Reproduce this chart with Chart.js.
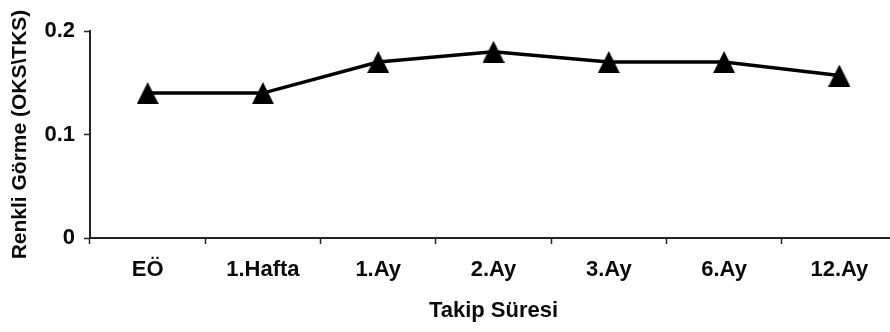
<!DOCTYPE html>
<html lang="tr">
<head>
<meta charset="utf-8">
<title>Renkli Görme - Takip Süresi</title>
<script src="https://cdn.jsdelivr.net/npm/chart.js@4/dist/chart.umd.min.js"></script>
<style>
  html, body { margin: 0; padding: 0; background: #fff; overflow: hidden; }
  #wrap { width: 898px; height: 332px; }
</style>
</head>
<body>
<div id="wrap"><canvas id="chart" width="898" height="332"></canvas></div>
<script>
// Follow-up periods
const categories = ['EÖ', '1.Hafta', '1.Ay', '2.Ay', '3.Ay', '6.Ay', '12.Ay'];
// Colour vision score (OKS\TKS) at each visit
const colourVision = [0.14, 0.14, 0.17, 0.18, 0.17, 0.17, 0.157];
// Y axis tick values
const yTicks = [0, 0.1, 0.2];

const yTitle = 'Renkli Görme (OKS\\TKS)';
const xTitle = 'Takip Süresi';

const FONT = "'Liberation Sans', Arial, sans-serif";
const INK = '#0a0a0a';

// Filled triangle marker, centred on its box
function triangleMarker(size) {
  const c = document.createElement('canvas');
  c.width = size; c.height = size;
  const g = c.getContext('2d');
  g.fillStyle = '#000';
  g.beginPath();
  g.moveTo(0, size);
  g.lineTo(size / 2, 0);
  g.lineTo(size, size);
  g.closePath();
  g.fill();
  return c;
}
const marker = triangleMarker(22);

new Chart(document.getElementById('chart'), {
  type: 'line',
  data: {
    labels: categories,
    datasets: [{
      data: colourVision,
      borderColor: '#000',
      borderWidth: 3.5,
      pointStyle: marker,
      pointRadius: 11,
      pointHoverRadius: 11,
      tension: 0,
      fill: false
    }]
  },
  options: {
    responsive: false,
    devicePixelRatio: 1,
    animation: false,
    layout: { autoPadding: false, padding: { top: 31, right: 1, bottom: 0, left: 0 } },
    plugins: { legend: { display: false }, tooltip: { enabled: false } },
    scales: {
      x: {
        type: 'category',
        offset: true,
        grid: { display: true, drawOnChartArea: false, offset: true, tickLength: 6, tickColor: '#222', tickWidth: 1.5 },
        border: { display: true, color: '#222', width: 2 },
        ticks: { color: INK, padding: 13, font: { family: FONT, size: 22, weight: 'bold' }, maxRotation: 0 },
        title: { display: true, text: xTitle, color: INK, padding: { top: 0, bottom: 8 }, font: { family: FONT, size: 22, weight: 'bold' } },
        afterFit: (s) => { s.height = 94; s.paddingLeft = 0; s.paddingRight = 0; }
      },
      y: {
        min: 0,
        max: 0.2,
        afterBuildTicks: (s) => { s.ticks = yTicks.map(v => ({ value: v })); },
        grid: { display: true, drawOnChartArea: false, tickLength: 6, tickColor: '#222', tickWidth: 1.5 },
        border: { display: true, color: '#222', width: 2 },
        ticks: { color: INK, padding: 9, font: { family: FONT, size: 22, weight: 'bold' } },
        title: { display: true, text: yTitle, color: INK, padding: { top: 8, bottom: 0 }, font: { family: FONT, size: 21, weight: 'bold' } },
        afterFit: (s) => { s.width = 90; }
      }
    }
  }
});
</script>
</body>
</html>
